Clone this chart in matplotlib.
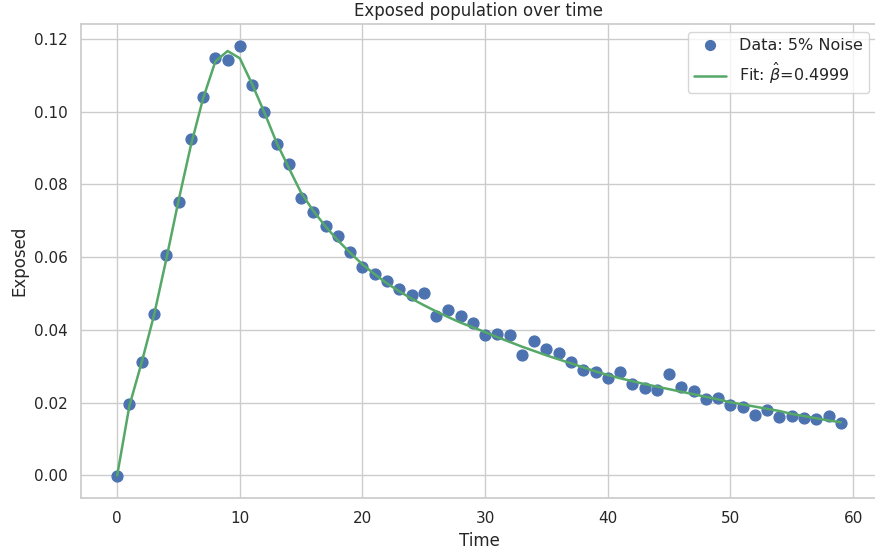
import matplotlib
matplotlib.use("Agg")
import matplotlib.pyplot as plt
import seaborn as sns
import numpy as np

time = list(range(60))
data_exposed = [
    -0.0003, 0.0197, 0.0313, 0.0444, 0.0605, 0.0753, 0.0925, 0.1040, 0.1147, 0.1142,
    0.1182, 0.1073, 0.1000, 0.0911, 0.0855, 0.0762, 0.0724, 0.0685, 0.0657, 0.0614,
    0.0573, 0.0554, 0.0534, 0.0513, 0.0497, 0.0501, 0.0438, 0.0454, 0.0439, 0.0419,
    0.0387, 0.0389, 0.0386, 0.0330, 0.0369, 0.0348, 0.0336, 0.0312, 0.0290, 0.0284,
    0.0269, 0.0283, 0.0252, 0.0240, 0.0235, 0.0280, 0.0242, 0.0231, 0.0211, 0.0214,
    0.0194, 0.0188, 0.0165, 0.0180, 0.0160, 0.0163, 0.0158, 0.0155, 0.0163, 0.0143,
]
fit_exposed = [
    0.0000, 0.0192, 0.0311, 0.0440, 0.0594, 0.0755, 0.0906, 0.1036, 0.1138, 0.1167,
    0.1147, 0.1076, 0.0998, 0.0915, 0.0845, 0.0777, 0.0727, 0.0684, 0.0646, 0.0612,
    0.0580, 0.0553, 0.0528, 0.0506, 0.0486, 0.0468, 0.0451, 0.0435, 0.0420, 0.0407,
    0.0394, 0.0380, 0.0367, 0.0354, 0.0342, 0.0330, 0.0319, 0.0308, 0.0297, 0.0286,
    0.0276, 0.0267, 0.0259, 0.0251, 0.0244, 0.0237, 0.0230, 0.0223, 0.0216, 0.0209,
    0.0201, 0.0195, 0.0189, 0.0183, 0.0177, 0.0169, 0.0163, 0.0157, 0.0151, 0.0146,
]
data_label = "Data: 5% Noise"
fit_label = r"Fit: $\hat{\beta}$=0.4999"

sns.set_theme(style="whitegrid")
plt.rcParams['font.family'] = ['DejaVu Sans']

fig = plt.figure(figsize=(8.75, 5.54), dpi=100)
ax = fig.add_axes([81/875, 1-498/554, (877-81)/875, (498-24)/554])

ax.plot(time, data_exposed, 'o', color='#4C72B0', markersize=7.8, label=data_label)
ax.plot(time, fit_exposed, '-', color='#55A868', linewidth=1.8, label=fit_label)

ax.set_xticks([0, 10, 20, 30, 40, 50, 60])
ax.set_yticks([0.0, 0.02, 0.04, 0.06, 0.08, 0.10, 0.12])
ax.yaxis.set_major_formatter(matplotlib.ticker.FormatStrFormatter('%.2f'))
ax.set_title("Exposed population over time")
ax.set_xlabel("Time")
ax.set_ylabel("Exposed")
ax.legend(loc='upper right', fontsize=11.5, markerscale=0.9)

fig.savefig("out.png", dpi=100)
